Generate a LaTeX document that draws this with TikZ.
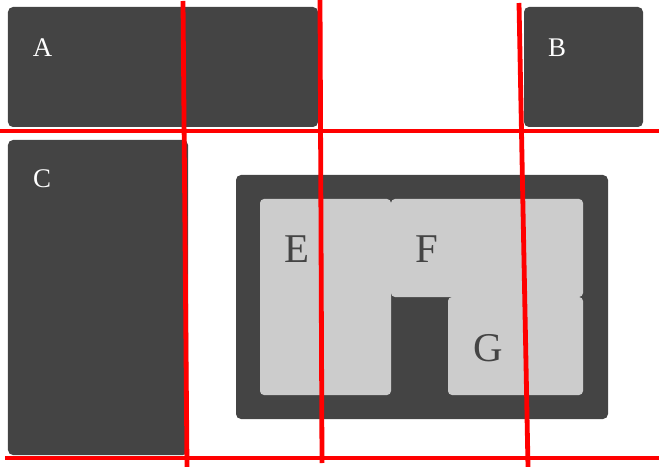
\documentclass[tikz,border=0pt]{standalone}
\usepackage{fontspec}
\setmainfont{Liberation Serif}
\definecolor{darkbox}{HTML}{444444}
\definecolor{lightbox}{HTML}{CCCCCC}

\begin{document}
\begin{tikzpicture}[x=1bp,y=-1bp]

    \useasboundingbox (0,0) rectangle (659,467);

    \begin{scope}[every node/.style={rectangle,fill=darkbox,rounded corners=5bp,inner sep=0pt,outer sep=0pt}]
        \node[minimum width=310bp,minimum height=120bp] (a) at (163,67) {};
        \node[minimum width=119bp,minimum height=120bp] (b) at (583.5,67) {};
        \node[minimum width=180bp,minimum height=315bp] (c) at (98,297.5) {};
        \node[minimum width=372bp,minimum height=244bp] (d) at (422,297) {}; % Container %
    \end{scope}

    \begin{scope}[every node/.style={rectangle,fill=lightbox,rounded corners=4bp,inner sep=0pt,outer sep=0pt}]
        \node[minimum width=131bp,minimum height=196bp] (e) at (325.5,297) {};
        \node[minimum width=192bp,minimum height=98bp] (f) at (487,248) {};
        \node[minimum width=135bp,minimum height=98bp] (g) at (515.5,346) {};
    \end{scope}

    \begin{scope}[every node/.style={text=white,font=\fontsize{27}{30}\selectfont,anchor=base,inner sep=0pt}]
        \node (la) at (42.5,57) {A};
        \node (lb) at (557,57) {B};
        \node (lc) at (42,188) {C};
    \end{scope}

    \begin{scope}[every node/.style={text=darkbox,font=\fontsize{41}{46}\selectfont,anchor=base,inner sep=0pt}]
        \node (le) at (296.5,263) {E};
        \node (lf) at (427,263) {F};
        \node (lg) at (488,361.5) {G};
    \end{scope}

    \begin{scope}[every path/.style={draw=red,line width=4.8bp}]
        \coordinate (h1l) at (0,131);
        \coordinate (h1r) at (659,131);
        \coordinate (h2l) at (5,458);
        \coordinate (h2r) at (659,458);
        \coordinate (v1t) at (183,1);
        \coordinate (v1b) at (187,467);
        \coordinate (v2t) at (320,0);
        \coordinate (v2b) at (322,463);
        \coordinate (v3t) at (519,3);
        \coordinate (v3b) at (528,467);
        \draw (h1l) -- (h1r);
        \draw (h2l) -- (h2r);
        \draw (v1t) -- (v1b);
        \draw (v2t) -- (v2b);
        \draw (v3t) -- (v3b);
    \end{scope}

\end{tikzpicture}
\end{document}
